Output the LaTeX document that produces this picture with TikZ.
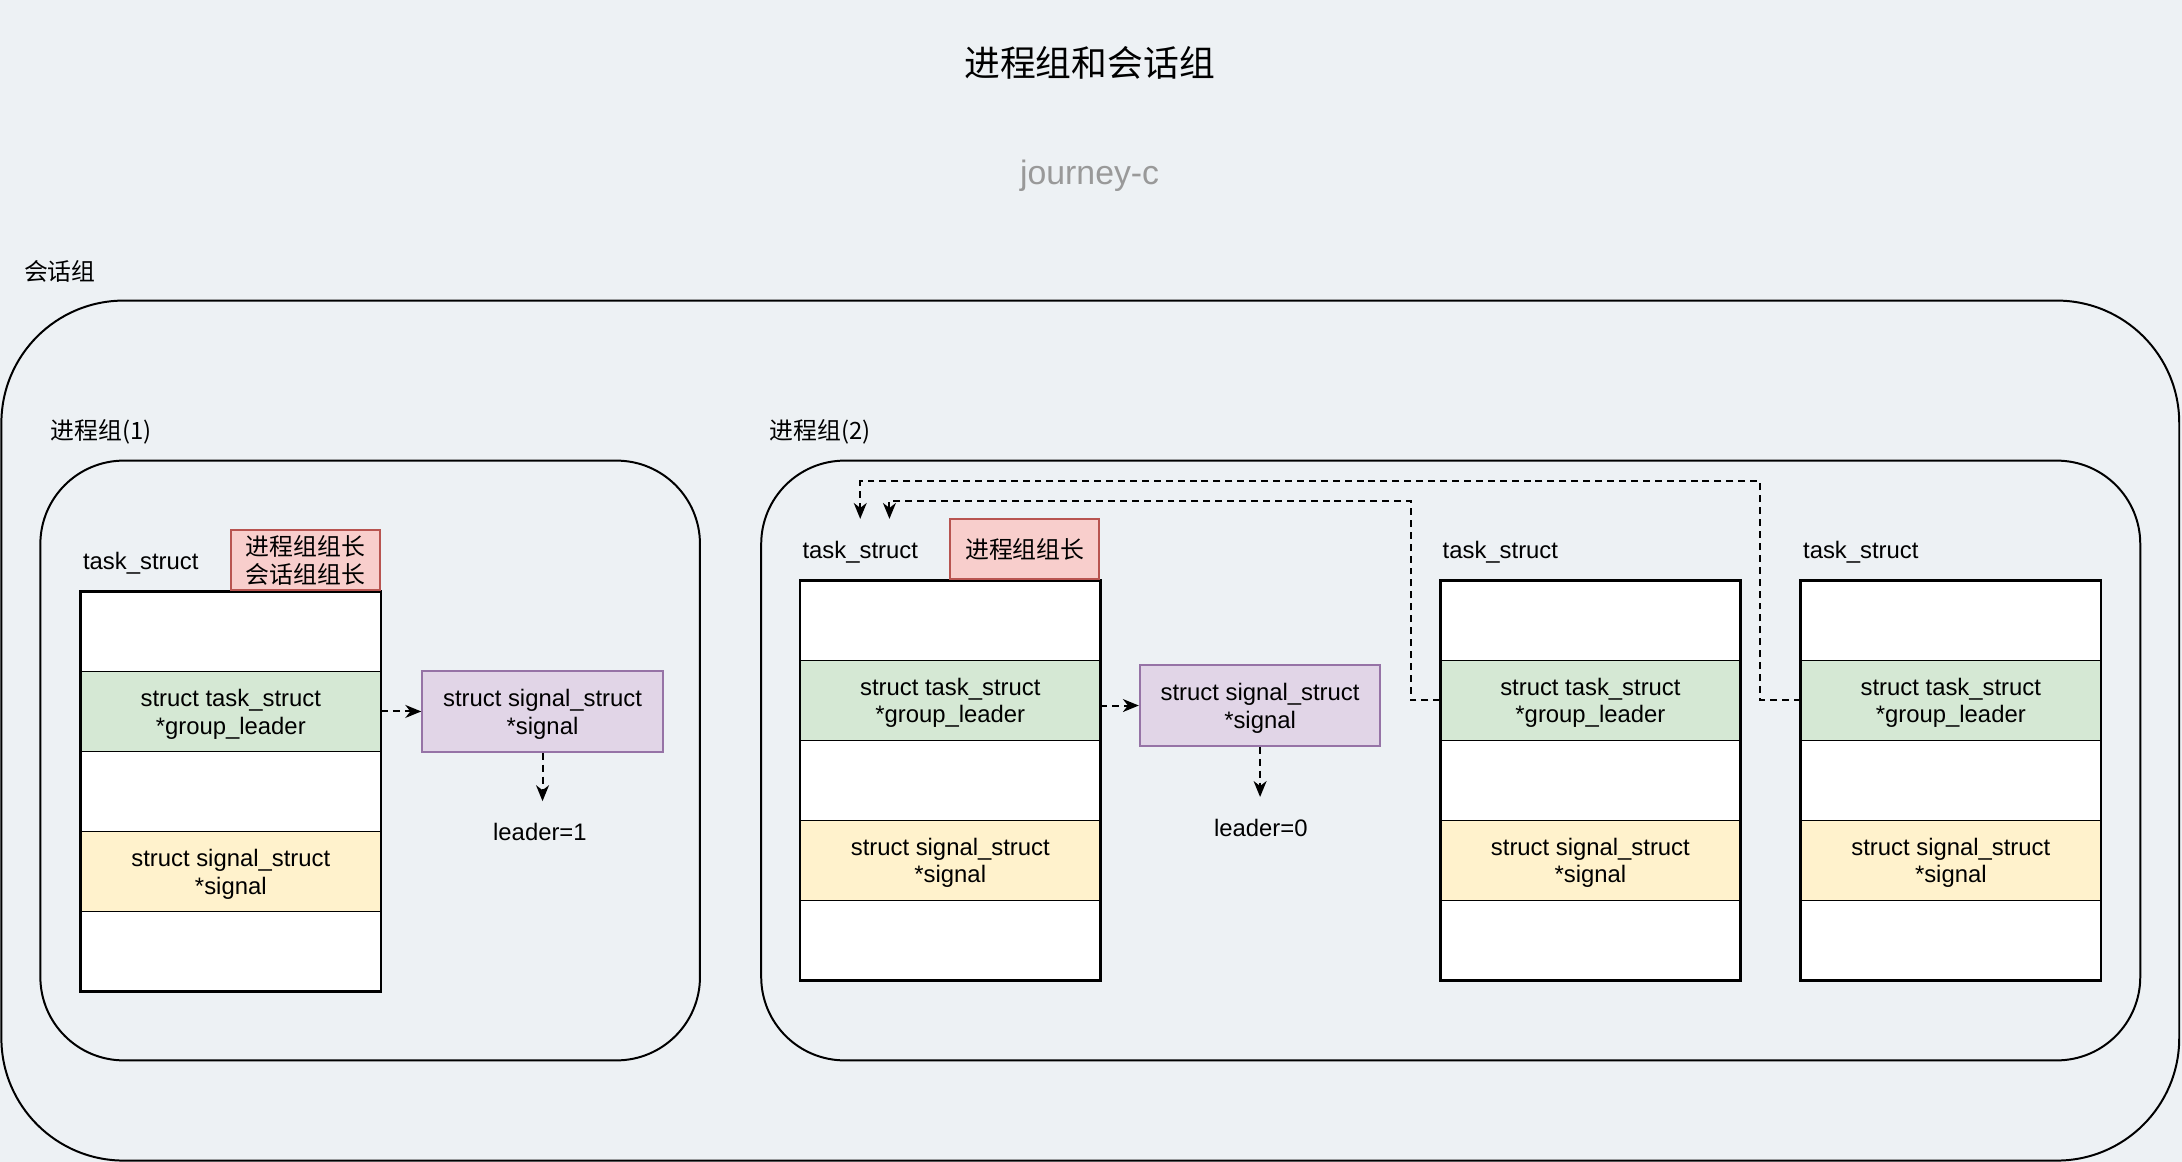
\documentclass[tikz,border=0pt]{standalone}
\usepackage{fontspec}
\setmainfont{Liberation Sans}
\newfontfamily\cjk{Noto Sans CJK SC}
\usetikzlibrary{positioning,arrows.meta}

\definecolor{bgcol}{RGB}{237,241,244}
\definecolor{leadgreen}{HTML}{D5E8D4}
\definecolor{sigyellow}{HTML}{FFF2CC}
\definecolor{tagfill}{HTML}{F8CECC}
\definecolor{tagline}{HTML}{B85450}
\definecolor{sigfill}{HTML}{E1D5E7}
\definecolor{sigline}{HTML}{9673A6}

\begin{document}
\begin{tikzpicture}[
  x=0.7pt, y=-0.7pt,
  font=\fontsize{12}{14}\selectfont,
  cjktext/.style={font=\cjk\fontsize{12}{14}\selectfont},
  frame/.style={draw, line width=1pt},
  row/.style={draw, fill=white, line width=0.8pt, minimum width=151pt, minimum height=40.25pt, inner sep=0pt, outer sep=0pt, align=center, text depth=0pt},
  colline/.style={draw, line width=1.3pt},
  tlabel/.style={minimum height=30.5pt, inner xsep=1pt, inner ysep=0pt, text depth=0pt},
  tag/.style={cjktext, draw=tagline, fill=tagfill, line width=1pt, minimum width=75pt, minimum height=30.5pt, inner sep=0pt, align=center},
  sigbox/.style={draw=sigline, fill=sigfill, line width=1pt, minimum width=121pt, minimum height=40.6pt, inner sep=0pt, align=center, text depth=0pt},
  leader/.style={inner xsep=0pt, inner ysep=11pt},
  dashedge/.style={line width=1pt, dash pattern=on 3.5pt off 2.5pt, -{Stealth[length=8pt, width=6.5pt, inset=2.5pt]}}
]

% background + page size
\fill[bgcol] (0,0) rectangle (1568,835);
\useasboundingbox (0,0) rectangle (1568,835);

%======================
% TITLE
%======================

\node (title) at (783,45) {\cjk\fontsize{18}{22}\selectfont 进程组和会话组};
\node[text=black!40] (brand) at (783,126) {\fontsize{17}{20}\selectfont journey-c};

%======================
% FRAMES
%======================

\node[cjktext, anchor=west, inner sep=0pt] (sess-lbl) at (17,195) {会话组};
\draw[frame, rounded corners=61.6pt] (1,216) rectangle (1566,834);

\node[cjktext, anchor=west, inner sep=0pt] (grp1-lbl) at (36,310) {进程组(1)};
\draw[frame, rounded corners=42pt] (29,331) rectangle (503,762);

\node[cjktext, anchor=west, inner sep=0pt] (grp2-lbl) at (553,310) {进程组(2)};
\draw[frame, rounded corners=42pt] (547,331) rectangle (1538,762);

%======================
% HELPER: one task_struct column
%======================

\newcommand{\taskcol}[3]{%
  % #1 name, #2 left x, #3 top y
  \node[row, anchor=north west] (#1-1) at (#2,#3) {};
  \node[row, fill=leadgreen, below=0pt of #1-1] (#1-2) {struct task\_struct\\*group\_leader};
  \node[row, below=0pt of #1-2] (#1-3) {};
  \node[row, fill=sigyellow, below=0pt of #1-3] (#1-4) {struct signal\_struct\\*signal};
  \node[row, below=0pt of #1-4] (#1-5) {};
  \draw[colline] (#1-1.north west) rectangle (#1-5.south east);

  % name above the column
  \node[tlabel, anchor=south west] (#1-t) at (#1-1.north west) {task\_struct};
}

%======================
% GROUP 1
%======================

\taskcol{c1}{58}{425}
\node[tag, anchor=south east] (tag1) at (c1-1.north east) {进程组组长\\会话组组长};

\node[sigbox, right=20.3pt of c1-2] (sig1) {struct signal\_struct\\*signal};
\node[leader] (lead1) at (388,598) {leader=1};

\draw[dashedge] (c1-2) -- (sig1);
\draw[dashedge] (sig1.south) -- (sig1.south |- lead1.north);

%======================
% GROUP 2
%======================

\taskcol{c2}{575}{417}
\node[tag, anchor=south east] (tag2) at (c2-1.north east) {进程组组长};

\node[sigbox] (sig2) at (905.5,507) {struct signal\_struct\\*signal};
\node[leader] (lead2) at (906,595) {leader=0};

\draw[dashedge] (c2-2.east |- sig2.west) -- (sig2);
\draw[dashedge] (sig2.south) -- (sig2.south |- lead2.north);

\taskcol{c3}{1035}{417}
\taskcol{c4}{1294}{417}

% group_leader pointers back to the leader
\coordinate (c2-in) at ([xshift=14.7pt]c2-t.north);
\draw[dashedge] (c3-2.west) -- ++(-21,0) |- (c2-in |- 0,360) -- (c2-in);
\draw[dashedge] (c4-2.west) -- ++(-29,0) |- (c2-t.north |- 0,346) -- (c2-t.north);

\end{tikzpicture}
\end{document}
